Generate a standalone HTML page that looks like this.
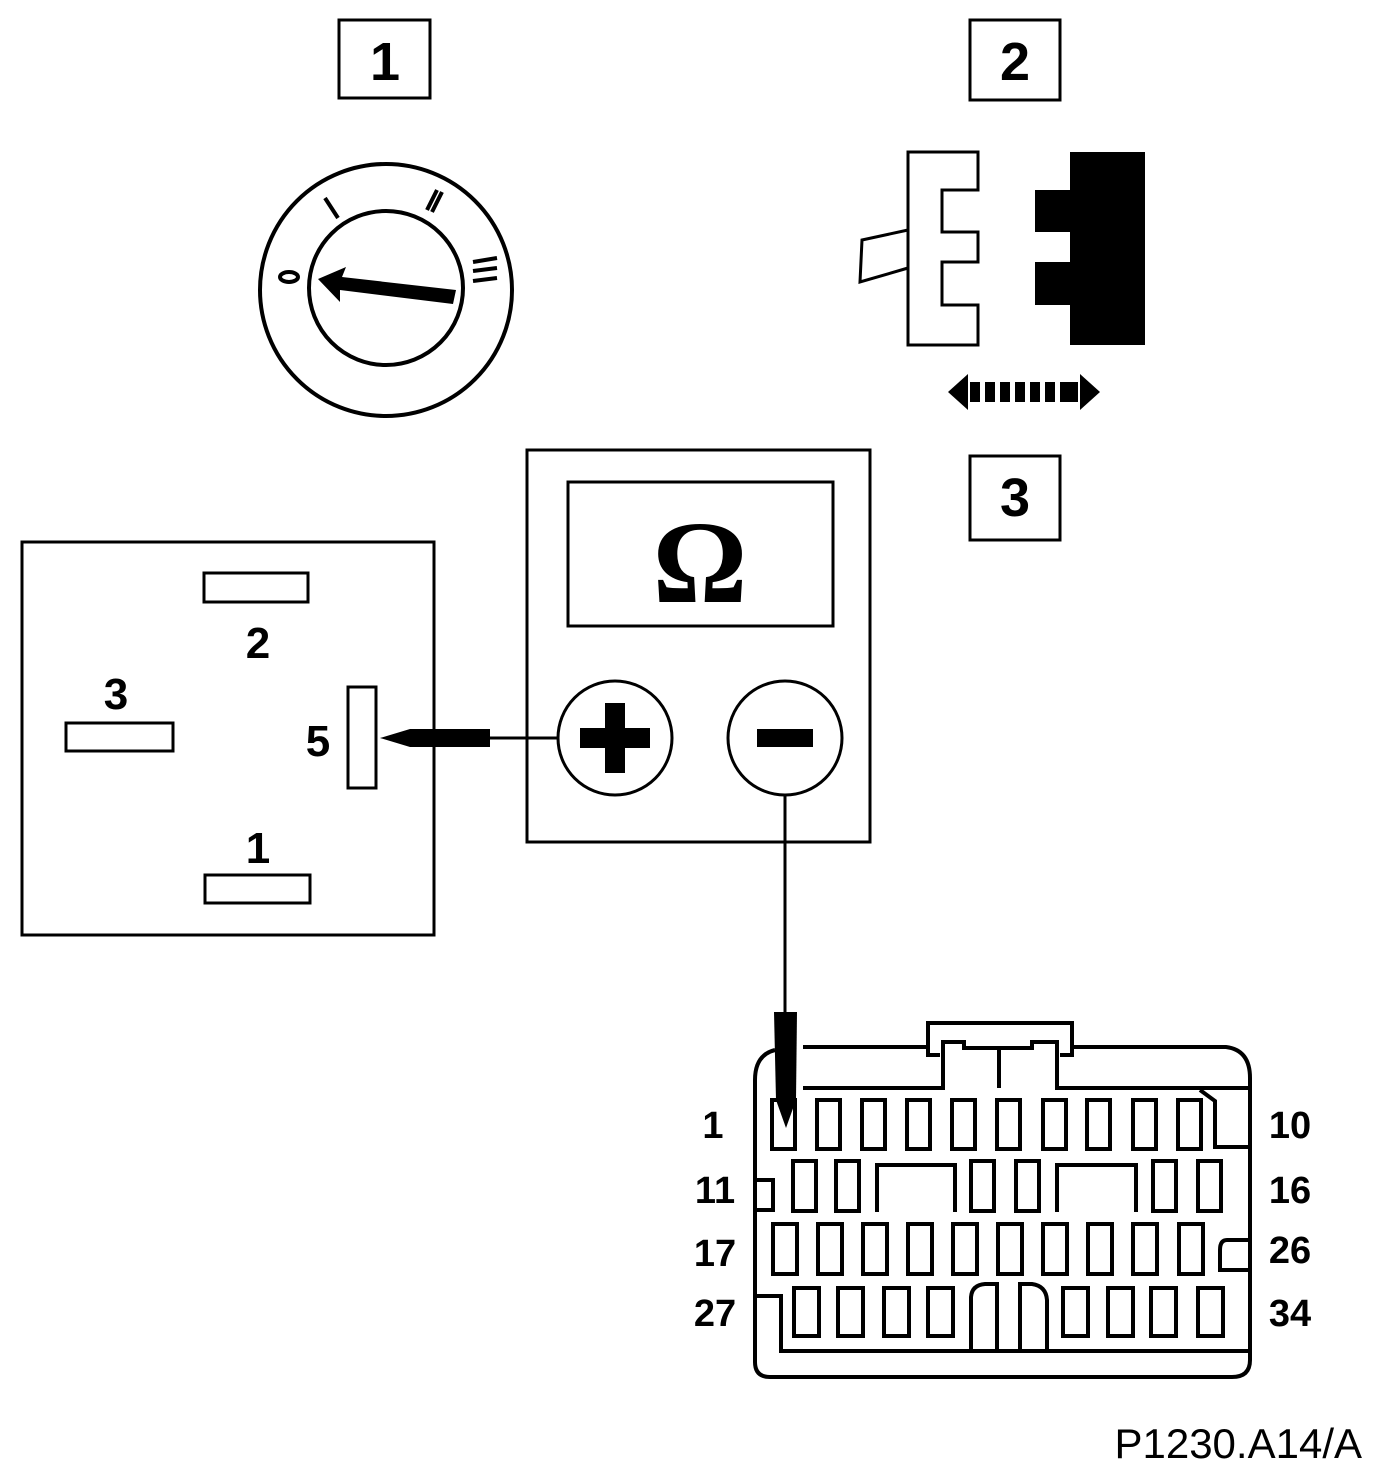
<!DOCTYPE html>
<html><head><style>
body{margin:0;background:#fff;}
svg{display:block;}
text{font-family:"Liberation Sans",Arial,sans-serif;font-weight:bold;fill:#000;}
</style></head><body>
<svg width="1392" height="1480" viewBox="0 0 1392 1480" xmlns="http://www.w3.org/2000/svg">
<g fill="none" stroke="#000" stroke-width="3">
<rect x="339" y="20" width="91" height="78"/>
<rect x="970" y="20" width="90" height="80"/>
<rect x="970" y="456" width="90" height="84"/>
</g>
<text x="385" y="80" font-size="54" text-anchor="middle">1</text>
<text x="1015" y="80" font-size="54" text-anchor="middle">2</text>
<text x="1015" y="516" font-size="54" text-anchor="middle">3</text>

<g fill="none" stroke="#000" stroke-width="4">
<circle cx="386" cy="290" r="126"/>
<circle cx="386" cy="288" r="77"/>
<line x1="325" y1="198" x2="338" y2="218"/>
<line x1="432" y1="212" x2="442" y2="192"/>
<line x1="427" y1="210" x2="437" y2="190"/>
<line x1="473" y1="262" x2="497" y2="258"/>
<line x1="473" y1="271" x2="497" y2="268"/>
<line x1="473" y1="281" x2="497" y2="278"/>
<ellipse cx="289" cy="277" rx="9" ry="5"/>
</g>
<polygon points="318,279 346,267 342,277 456,290 453,304 340,290 340,302" fill="#000"/>

<path d="M908,152 H978 V190 H942 V232 H978 V262 H942 V305 H978 V345 H908 Z" fill="#fff" stroke="#000" stroke-width="3"/>
<path d="M908,230 L862,240 L860,282 L908,268" fill="none" stroke="#000" stroke-width="3"/>
<path d="M1070,152 H1145 V345 H1070 V305 H1035 V262 H1070 V232 H1035 V190 H1070 Z" fill="#000"/>
<g fill="#000">
<polygon points="948,392 968,374 968,410"/>
<polygon points="1100,392 1080,374 1080,410"/>
<rect x="970" y="382" width="10" height="20"/><rect x="985" y="382" width="10" height="20"/>
<rect x="1000" y="382" width="10" height="20"/><rect x="1015" y="382" width="10" height="20"/>
<rect x="1030" y="382" width="10" height="20"/><rect x="1045" y="382" width="10" height="20"/>
<rect x="1060" y="382" width="18" height="20"/>
</g>

<g fill="none" stroke="#000" stroke-width="3">
<rect x="527" y="450" width="343" height="392"/>
<rect x="568" y="482" width="265" height="144"/>
<circle cx="615" cy="738" r="57"/>
<circle cx="785" cy="738" r="57"/>
</g>
<text x="700" y="602" font-size="118" text-anchor="middle" style="font-family:'Liberation Serif',serif;font-weight:bold">Ω</text>
<rect x="605" y="703" width="20" height="70" fill="#000"/>
<rect x="580" y="728" width="70" height="20" fill="#000"/>
<rect x="757" y="729" width="56" height="18" fill="#000"/>

<g fill="none" stroke="#000" stroke-width="3">
<rect x="22" y="542" width="412" height="393"/>
<rect x="204" y="573" width="104" height="29"/>
<rect x="66" y="723" width="107" height="28"/>
<rect x="205" y="875" width="105" height="28"/>
<rect x="348" y="687" width="28" height="101"/>
</g>
<text x="258" y="658" font-size="44" text-anchor="middle">2</text>
<text x="116" y="709" font-size="44" text-anchor="middle">3</text>
<text x="258" y="863" font-size="44" text-anchor="middle">1</text>
<text x="318" y="756" font-size="44" text-anchor="middle">5</text>
<polygon points="380,738 410,729 490,729 490,747 410,747" fill="#000"/>
<line x1="490" y1="738" x2="558" y2="738" stroke="#000" stroke-width="3"/>
<line x1="785" y1="795" x2="785" y2="1012" stroke="#000" stroke-width="3"/>

<g fill="none" stroke="#000" stroke-width="4">
<path d="M803,1047 H928 V1023 H1072 V1047 H1226 Q1250,1050 1250,1078 V1360 Q1250,1377 1232,1377 H770 Q755,1377 755,1362 V1080 Q755,1055 775,1050"/>
<path d="M803,1088 H943 V1042 H964 V1048 H1032 V1042 H1057 V1088 H1250"/>
<line x1="999" y1="1050" x2="999" y2="1088"/>
<path d="M928,1047 V1055 H940"/><path d="M1072,1047 V1055 H1060"/>
<path d="M1200,1090 L1215,1101 V1147 H1250"/>
<path d="M755,1180 H773 V1210 H755"/>
<path d="M1250,1240 H1227 Q1220,1240 1220,1250 V1270 H1250"/>
<path d="M755,1296 H781 V1351 H1250"/>
<path d="M877,1212 V1165 H955 V1212"/>
<path d="M1057,1212 V1165 H1136 V1212"/>
<path d="M971,1351 V1297 Q972,1285 985,1284 H997 V1351"/>
<path d="M1020,1351 V1284 H1032 Q1046,1286 1047,1300 V1351"/>
</g>
<g fill="none" stroke="#000" stroke-width="4">
<rect x="772" y="1100" width="23" height="49"/>
<rect x="817" y="1100" width="23" height="49"/>
<rect x="862" y="1100" width="23" height="49"/>
<rect x="907" y="1100" width="23" height="49"/>
<rect x="952" y="1100" width="23" height="49"/>
<rect x="997" y="1100" width="23" height="49"/>
<rect x="1043" y="1100" width="23" height="49"/>
<rect x="1087" y="1100" width="23" height="49"/>
<rect x="1133" y="1100" width="23" height="49"/>
<rect x="1178" y="1100" width="23" height="49"/>

<rect x="793" y="1161" width="23" height="50"/>
<rect x="836" y="1161" width="23" height="50"/>
<rect x="971" y="1161" width="23" height="50"/>
<rect x="1016" y="1161" width="23" height="50"/>
<rect x="1153" y="1161" width="23" height="50"/>
<rect x="1198" y="1161" width="23" height="50"/>

<rect x="773" y="1224" width="24" height="50"/>
<rect x="818" y="1224" width="24" height="50"/>
<rect x="863" y="1224" width="24" height="50"/>
<rect x="908" y="1224" width="24" height="50"/>
<rect x="953" y="1224" width="24" height="50"/>
<rect x="998" y="1224" width="24" height="50"/>
<rect x="1043" y="1224" width="24" height="50"/>
<rect x="1088" y="1224" width="24" height="50"/>
<rect x="1133" y="1224" width="24" height="50"/>
<rect x="1179" y="1224" width="24" height="50"/>

<rect x="794" y="1288" width="25" height="48"/>
<rect x="838" y="1288" width="25" height="48"/>
<rect x="884" y="1288" width="25" height="48"/>
<rect x="928" y="1288" width="25" height="48"/>
<rect x="1063" y="1288" width="25" height="48"/>
<rect x="1108" y="1288" width="25" height="48"/>
<rect x="1151" y="1288" width="25" height="48"/>
<rect x="1198" y="1288" width="25" height="48"/>
</g>
<polygon points="774,1012 797,1012 796,1100 786,1128 776,1100" fill="#000"/>
<g font-size="38">
<text x="713" y="1138" text-anchor="middle">1</text>
<text x="715" y="1203" text-anchor="middle">11</text>
<text x="715" y="1266" text-anchor="middle">17</text>
<text x="715" y="1326" text-anchor="middle">27</text>
<text x="1290" y="1138" text-anchor="middle">10</text>
<text x="1290" y="1203" text-anchor="middle">16</text>
<text x="1290" y="1263" text-anchor="middle">26</text>
<text x="1290" y="1326" text-anchor="middle">34</text>
</g>
<text x="1362" y="1458" font-size="42" text-anchor="end" style="font-weight:normal">P1230.A14/A</text>
</svg>
</body></html>
